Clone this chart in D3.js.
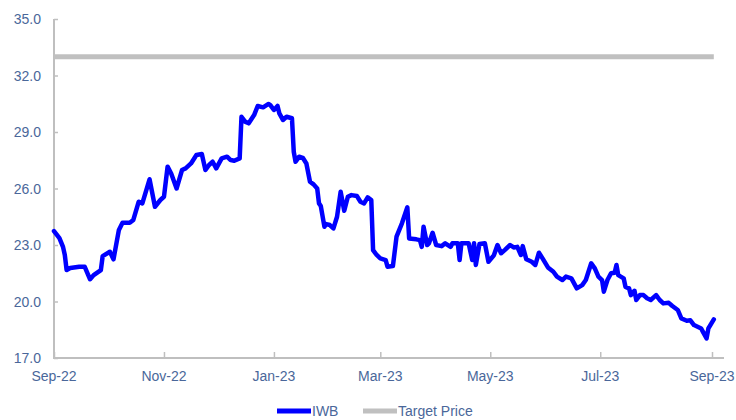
<!DOCTYPE html>
<html>
<head>
<meta charset="utf-8">
<script src="https://cdn.jsdelivr.net/npm/d3@7"></script>
<style>
  body { margin: 0; background: #fff; }
  svg { display: block; font-family: "Liberation Sans", Arial, sans-serif; }
</style>
</head>
<body>
<svg id="chart" width="736" height="420"></svg>
<script>
'use strict';

// IWB closing prices
var dates = [
  '2022-09-01','2022-09-04','2022-09-06','2022-09-07','2022-09-08','2022-09-10','2022-09-15','2022-09-18',
  '2022-09-21','2022-09-23','2022-09-27','2022-09-28','2022-10-02','2022-10-04','2022-10-07','2022-10-09',
  '2022-10-13','2022-10-15','2022-10-18','2022-10-20','2022-10-24','2022-10-27','2022-10-30','2022-11-01',
  '2022-11-03','2022-11-05','2022-11-08','2022-11-11','2022-11-13','2022-11-16','2022-11-19','2022-11-22',
  '2022-11-24','2022-11-26','2022-11-28','2022-11-30','2022-12-03','2022-12-06','2022-12-08','2022-12-10',
  '2022-12-13','2022-12-14','2022-12-16','2022-12-18','2022-12-21','2022-12-23','2022-12-26','2022-12-29',
  '2022-12-30','2023-01-01','2023-01-03','2023-01-04','2023-01-06','2023-01-08','2023-01-11','2023-01-12',
  '2023-01-13','2023-01-15','2023-01-17','2023-01-19','2023-01-21','2023-01-23','2023-01-25','2023-01-26',
  '2023-01-27','2023-01-29','2023-01-30','2023-02-01','2023-02-03','2023-02-05','2023-02-07','2023-02-09',
  '2023-02-11','2023-02-13','2023-02-16','2023-02-18','2023-02-20','2023-02-22','2023-02-24','2023-02-25',
  '2023-02-27','2023-03-01','2023-03-04','2023-03-05','2023-03-08','2023-03-10','2023-03-13','2023-03-16',
  '2023-03-17','2023-03-21','2023-03-23','2023-03-24','2023-03-25','2023-03-27','2023-03-28','2023-03-30',
  '2023-04-01','2023-04-04','2023-04-06','2023-04-09','2023-04-10','2023-04-13','2023-04-14','2023-04-15',
  '2023-04-19','2023-04-21','2023-04-22','2023-04-23','2023-04-25','2023-04-28','2023-04-30','2023-05-03',
  '2023-05-05','2023-05-07','2023-05-09','2023-05-12','2023-05-14','2023-05-16','2023-05-18','2023-05-19',
  '2023-05-21','2023-05-24','2023-05-26','2023-05-28','2023-05-30','2023-06-02','2023-06-05','2023-06-07',
  '2023-06-10','2023-06-12','2023-06-15','2023-06-18','2023-06-21','2023-06-23','2023-06-26','2023-06-28',
  '2023-06-30','2023-07-02','2023-07-03','2023-07-05','2023-07-07','2023-07-09','2023-07-10','2023-07-11',
  '2023-07-14','2023-07-15','2023-07-17','2023-07-18','2023-07-20','2023-07-21','2023-07-23','2023-07-25',
  '2023-07-27','2023-07-29','2023-08-01','2023-08-03','2023-08-05','2023-08-08','2023-08-10','2023-08-13',
  '2023-08-15','2023-08-18','2023-08-20','2023-08-22','2023-08-24','2023-08-26','2023-08-27','2023-08-29',
  '2023-08-30','2023-09-02'
];

var iwbValues = [
  23.74, 23.37, 22.90, 22.47, 21.67, 21.78, 21.85, 21.85,
  21.18, 21.40, 21.67, 22.41, 22.64, 22.24, 23.80, 24.18,
  24.18, 24.33, 25.30, 25.21, 26.49, 25.03, 25.39, 25.56,
  27.16, 26.80, 26.00, 26.98, 27.07, 27.33, 27.78, 27.83,
  26.98, 27.25, 27.42, 27.07, 27.60, 27.69, 27.51, 27.47,
  27.60, 29.81, 29.55, 29.46, 29.90, 30.38, 30.31, 30.49,
  30.43, 30.17, 30.38, 29.99, 29.64, 29.81, 29.73, 27.95,
  27.42, 27.69, 27.63, 27.33, 26.36, 26.22, 26.00, 25.21,
  25.07, 23.97, 24.11, 24.06, 23.88, 24.50, 25.83, 24.82,
  25.56, 25.65, 25.60, 25.30, 25.21, 25.53, 25.39, 22.73,
  22.47, 22.29, 22.20, 21.85, 21.88, 23.44, 24.15, 25.00,
  23.35, 23.30, 23.26, 22.90, 23.97, 23.00, 23.09, 23.65,
  23.00, 22.94, 23.09, 22.90, 23.09, 23.09, 22.20, 23.09,
  23.09, 22.20, 23.09, 21.94, 23.05, 23.09, 22.11, 22.45,
  23.00, 22.56, 22.73, 23.00, 22.87, 22.90, 22.47, 22.94,
  22.24, 22.11, 21.94, 22.59, 22.29, 21.81, 21.58, 21.32,
  21.14, 21.32, 21.23, 20.70, 20.87, 21.14, 22.03, 21.76,
  21.32, 21.14, 20.52, 21.14, 21.50, 21.53, 21.94, 21.40,
  21.23, 20.78, 20.70, 20.34, 20.57, 20.08, 20.34, 20.34,
  20.17, 20.08, 20.34, 20.08, 19.90, 19.93, 19.76, 19.55,
  19.10, 18.98, 19.00, 18.75, 18.66, 18.57, 18.39, 18.04,
  18.57, 19.05
];

var targetDates = ['2022-09-01', '2023-09-02'];
var targetValues = [33.0, 33.0];

var yTicks = [17, 20, 23, 26, 29, 32, 35];
var xTickDates = ['2022-09-01','2022-11-01','2023-01-01','2023-03-01','2023-05-01','2023-07-01','2023-09-01'];
var seriesNames = ['IWB', 'Target Price'];

var parseDate = d3.timeParse('%Y-%m-%d');
var labelColor = '#4a679a';
var axisColor = '#bfbfbf';

var svg = d3.select('#chart');

var x = d3.scaleTime()
  .domain([parseDate('2022-09-01'), parseDate('2023-09-01')])
  .range([54, 712]);
var y = d3.scaleLinear().domain([17, 35]).range([358, 19]);

var iwb = dates.map(function(d, i) { return {date: parseDate(d), value: iwbValues[i]}; });
var target = targetDates.map(function(d, i) { return {date: parseDate(d), value: targetValues[i]}; });

// y axis
var yAxis = svg.append('g')
  .attr('transform', 'translate(54,0)')
  .call(d3.axisRight(y).tickValues(yTicks).tickSize(4).tickFormat(''));
yAxis.select('.domain').remove();
yAxis.selectAll('.tick line').attr('stroke', axisColor).attr('stroke-width', 1.5);

svg.selectAll('.ylabel')
  .data(yTicks)
  .enter().append('text')
    .attr('class', 'ylabel')
    .attr('x', 41)
    .attr('y', function(d) { return y(d) + 5; })
    .attr('text-anchor', 'end')
    .attr('font-size', 14)
    .attr('fill', labelColor)
    .text(d3.format('.1f'));

// x axis
var xAxis = svg.append('g')
  .attr('transform', 'translate(0,358)')
  .call(d3.axisTop(x).tickValues(xTickDates.map(parseDate)).tickSize(6).tickFormat(''));
xAxis.select('.domain').remove();
xAxis.selectAll('.tick line').attr('stroke', axisColor).attr('stroke-width', 1.5);

svg.selectAll('.xlabel')
  .data(xTickDates.map(parseDate))
  .enter().append('text')
    .attr('class', 'xlabel')
    .attr('x', function(d) { return x(d); })
    .attr('y', 381)
    .attr('text-anchor', 'middle')
    .attr('font-size', 14)
    .attr('fill', labelColor)
    .text(d3.timeFormat('%b-%y'));

// axis lines
svg.append('line')
  .attr('x1', 54).attr('x2', 54).attr('y1', 19).attr('y2', 358)
  .attr('stroke', axisColor).attr('stroke-width', 2);
svg.append('line')
  .attr('x1', 53).attr('x2', 724).attr('y1', 358).attr('y2', 358)
  .attr('stroke', axisColor).attr('stroke-width', 2);

var line = d3.line()
  .x(function(d) { return x(d.date); })
  .y(function(d) { return y(d.value); });

svg.append('path')
  .datum(target)
  .attr('fill', 'none')
  .attr('stroke', '#c0c0c0')
  .attr('stroke-width', 5)
  .attr('d', line);

svg.append('path')
  .datum(iwb)
  .attr('fill', 'none')
  .attr('stroke', '#0000ff')
  .attr('stroke-width', 4.5)
  .attr('stroke-linejoin', 'round')
  .attr('stroke-linecap', 'round')
  .attr('d', line);

// legend
var legendColors = ['#0000ff', '#c0c0c0'];
var legendX = [277, 363];
var legend = svg.selectAll('.legend')
  .data(seriesNames)
  .enter().append('g')
    .attr('class', 'legend')
    .attr('transform', function(d, i) { return 'translate(' + legendX[i] + ',411)'; });

legend.append('line')
  .attr('x1', 0).attr('x2', 34)
  .attr('stroke', function(d, i) { return legendColors[i]; })
  .attr('stroke-width', 5);
legend.append('text')
  .attr('x', 35)
  .attr('y', 5)
  .attr('font-size', 14)
  .attr('fill', labelColor)
  .text(function(d) { return d; });
</script>
</body>
</html>
